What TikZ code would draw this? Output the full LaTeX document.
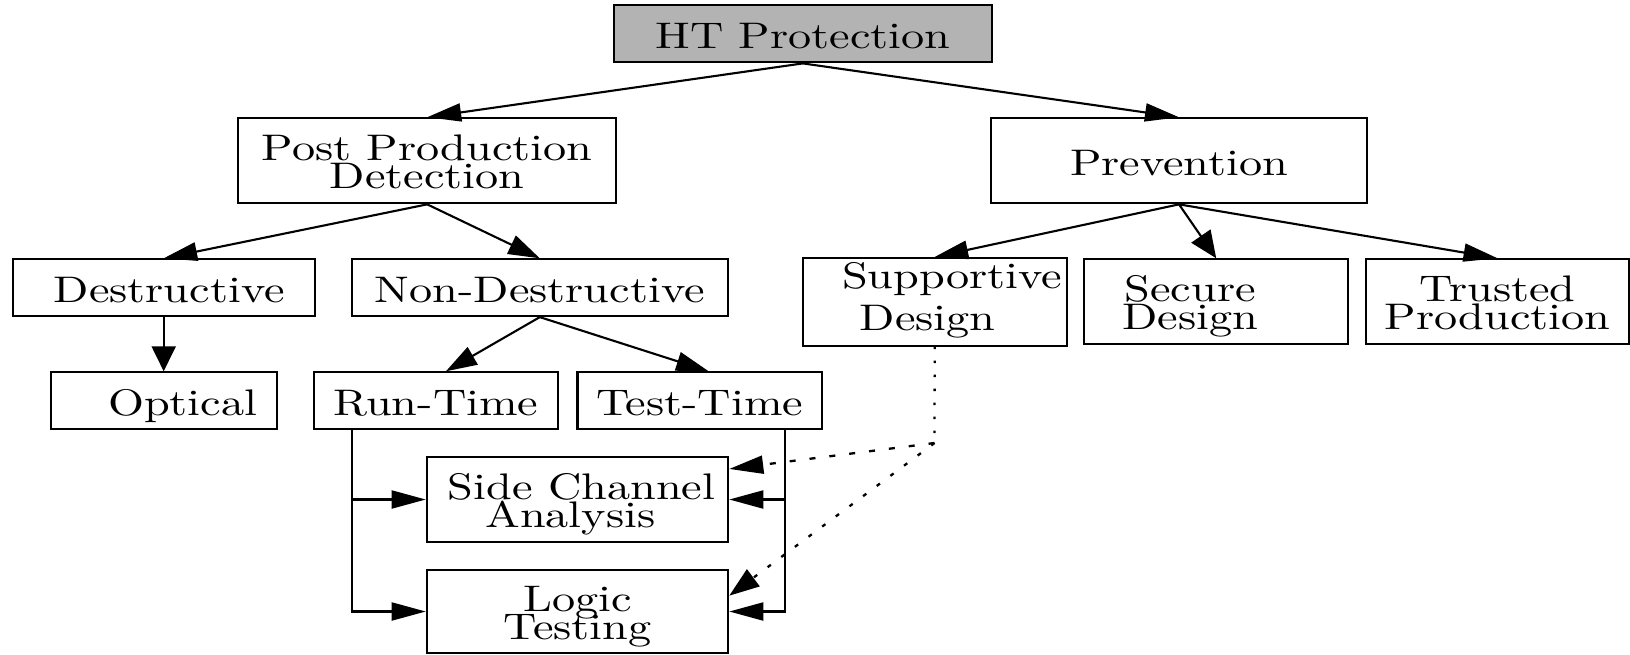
\documentclass[tikz,border=0pt]{standalone}
\usepackage{graphicx}
\usetikzlibrary{arrows.meta}
\font\lmten="[lmroman10-regular]" at 37pt
\definecolor{htgray}{HTML}{B3B3B3}
\newcommand\sx[1]{\scalebox{1.25}[1]{#1}}
\newcommand\two[3][27.5pt]{\vtop{\baselineskip=#1\lineskiplimit=-\maxdimen\lineskip=0pt\halign{\hfil##\hfil\cr\sx{#2}\cr\sx{#3}\cr}}}
\tikzset{
  box/.style={draw=black, line width=2.1pt, inner sep=0pt, font=\lmten, text height=30pt, text depth=0pt},
  boxtwo/.style={box, text depth=30pt},
  edge/.style={line width=2.1pt, draw=black},
  arr/.style 2 args={edge, -{Triangle[length=#1pt, width=#2pt]}},
  dotl/.style={edge, line width=2.3pt}
}
\begin{document}
\begin{tikzpicture}[x=1pt,y=-1pt]
\useasboundingbox (0,0) rectangle (1630,654);
% nodes
\node[box, fill=htgray, minimum width=377.5pt, minimum height=57.3pt] (ht) at (802.8,33.7) {\sx{HT Protection}};
\node[boxtwo, minimum width=377.7pt, minimum height=85pt] (ppd) at (427.2,160.8) {\two{Post Production}{Detection}};
\node[box, minimum width=376pt, minimum height=85pt] (prev) at (1179,160.8) {\sx{Prevention}};
\node[box, minimum width=302pt, minimum height=56.7pt] (des) at (163.7,287.7) {\hspace*{11pt}\sx{Destructive}};
\node[box, minimum width=376.5pt, minimum height=56.7pt] (nond) at (539.8,287.7) {\sx{Non-Destructive}};
\node[boxtwo, text depth=57.6pt, minimum width=264pt, minimum height=85pt] (sup) at (934.7,301.8) {\two[42pt]{\hspace*{28pt}Supportive}{Design\hspace*{11.2pt}}};
\node[boxtwo, minimum width=264.3pt, minimum height=85pt] (sec) at (1216.2,301.8) {\two{Secure\hspace*{41.6pt}}{Design\hspace*{41.6pt}}};
\node[boxtwo, minimum width=263pt, minimum height=85pt] (tru) at (1497.5,301.8) {\two{Trusted}{Production}};
\node[box, minimum width=226pt, minimum height=56.7pt] (opt) at (163.7,400.7) {\hspace*{38pt}\sx{Optical}};
\node[box, minimum width=244.6pt, minimum height=56.7pt] (run) at (435.9,400.7) {\sx{Run-Time}};
\node[box, minimum width=244.5pt, minimum height=56.7pt] (test) at (699.7,400.7) {\sx{Test-Time}};
\node[boxtwo, minimum width=301.5pt, minimum height=84.4pt] (sca) at (577.5,499.5) {\two{\hspace*{6.4pt}Side Channel}{Analysis\hspace*{11.2pt}}};
\node[boxtwo, minimum width=301.5pt, minimum height=83pt] (lt) at (577.5,611.5) {\two{Logic}{Testing}};
\coordinate (j) at (934.5,443);
% edges
\draw[arr={34}{18}] (ht.south) -- (ppd.north);
\draw[arr={34}{18}] (ht.south) -- (prev.north);
\draw[arr={33.5}{18.5}] (ppd.south) -- (des.north);
\draw[arr={31.5}{20}] (ppd.south) -- (nond.north);
\draw[arr={33.5}{18.5}] (prev.south) -- (sup.north);
\draw[arr={27}{23}] (prev.south) -- (sec.north);
\draw[arr={34}{18}] (prev.south) -- (tru.north);
\draw[arr={25}{24}] (des.south) -- (opt.north);
\draw[arr={31}{20}] (nond.south) -- ([xshift=10pt]run.north);
\draw[arr={32.5}{19}] (nond.south) -- ([xshift=9pt]test.north);
\draw[arr={34}{18}] ([xshift=39pt]run.south west) |- (sca.west);
\draw[arr={34}{18}] ([xshift=39pt]run.south west) |- (lt.west);
\draw[arr={34}{18}] ([xshift=-38pt]test.south east) |- (sca.east);
\draw[arr={34}{18}] ([xshift=-38pt]test.south east) |- (lt.east);
% dotted
\draw[dotl, dash pattern=on 2.5pt off 11.5pt] (sup.south) -- (j);
\draw[dotl, -{Triangle[length=34pt, width=18pt]}, dash pattern=on 6pt off 14pt] (j) -- ([yshift=-12.7pt]sca.north east);
\draw[dotl, -{Triangle[length=30pt, width=21pt]}, dash pattern=on 4pt off 13pt] (j) -- ([yshift=-26.7pt]lt.north east);
\end{tikzpicture}
\end{document}
